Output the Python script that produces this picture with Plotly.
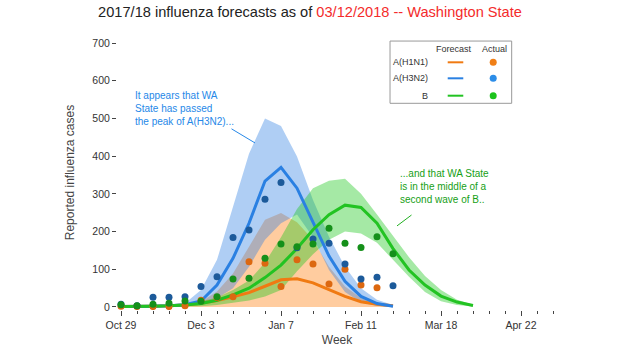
import plotly.graph_objects as go

# ---- data ----
weeks = ["2017-10-29", "2017-11-05", "2017-11-12", "2017-11-19", "2017-11-26",
         "2017-12-03", "2017-12-10", "2017-12-17", "2017-12-24", "2017-12-31",
         "2018-01-07", "2018-01-14", "2018-01-21", "2018-01-28", "2018-02-04",
         "2018-02-11", "2018-02-18", "2018-02-25", "2018-03-04", "2018-03-11",
         "2018-03-18", "2018-03-25", "2018-04-01"]

tick_vals = ["2017-10-29", "2017-12-03", "2018-01-07", "2018-02-11", "2018-03-18", "2018-04-22"]
tick_text = ["Oct 29", "Dec 3", "Jan 7", "Feb 11", "Mar 18", "Apr 22"]
y_ticks = [0, 100, 200, 300, 400, 500, 600, 700]

# A(H1N1)
h1_fc = [1, 1, 2, 3, 5, 10, 17, 27, 38, 55, 72, 75, 64, 46, 28, 14, 7, 3]
h1_hi = [1, 1, 2, 2, 5, 14, 41, 89, 160, 231, 249, 225, 178, 107, 54, 24, 8, 2]
h1_lo = [0, 0, 0, 0, 0, 0, 0, 0, 0, 0, 0, 0, 0, 0, 0, 0, 0, 0]
h1_act = [2, 1, 1, 1, 3, 18, 25, 27, 120, 116, 54, 125, 114, 61, 100, 58, 51, None]

# A(H3N2)
h3_fc = [1, 1, 2, 3, 6, 16, 58, 129, 222, 334, 370, 315, 225, 135, 68, 28, 9, 2]
h3_hi = [1, 2, 3, 4, 10, 45, 125, 266, 406, 500, 480, 399, 284, 186, 107, 50, 19, 5]
h3_lo = [0, 0, 1, 1, 2, 8, 23, 50, 107, 178, 222, 245, 185, 98, 40, 12, 3, 0]
h3_act = [7, 3, 26, 26, 27, 54, 80, 184, 204, 286, 330, 157, 180, 169, 114, 74, 79, 56]

# B
b_fc = [1, 1, 2, 3, 5, 9, 18, 32, 50, 78, 111, 155, 205, 245, 270, 264, 222, 155, 98, 58, 29, 13, 4]
b_hi = [1, 2, 3, 5, 8, 15, 25, 45, 70, 118, 185, 260, 315, 335, 340, 300, 245, 188, 132, 82, 45, 19, 6]
b_lo = [0, 0, 0, 0, 0, 2, 5, 10, 17, 28, 45, 95, 140, 178, 200, 195, 170, 125, 80, 40, 15, 5, 1]
b_act = [6, 3, 7, 10, 16, 15, 27, 74, 76, 129, 167, 160, 167, 209, 169, 158, 186, 141]

# ---- style ----
FONT = "Liberation Sans, Arial, sans-serif"
C_OR_LINE, C_OR_DOT, C_OR_FILL, C_OR_LEG = "#f07a12", "#dc6810", "rgba(255,127,14,0.40)", "#f07f17"
C_BL_LINE, C_BL_DOT, C_BL_FILL, C_BL_LEG = "#2a80e2", "#1c5a9a", "rgba(44,127,225,0.38)", "#2c8de8"
C_GR_LINE, C_GR_DOT, C_GR_FILL, C_GR_LEG = "#22c322", "#15901a", "rgba(30,200,30,0.40)", "#1cc31c"

fig = go.Figure()

def band(n, lo, hi, fillcolor):
    x = weeks[:n]
    fig.add_trace(go.Scatter(x=x, y=lo, mode="lines", line=dict(width=0),
                             hoverinfo="skip", showlegend=False))
    fig.add_trace(go.Scatter(x=x, y=hi, mode="lines", line=dict(width=0),
                             fill="tonexty", fillcolor=fillcolor,
                             hoverinfo="skip", showlegend=False))

band(len(h1_hi), h1_lo, h1_hi, C_OR_FILL)
band(len(h3_hi), h3_lo, h3_hi, C_BL_FILL)
band(len(b_hi), b_lo, b_hi, C_GR_FILL)

for vals, col in [(h1_fc, C_OR_LINE), (h3_fc, C_BL_LINE), (b_fc, C_GR_LINE)]:
    fig.add_trace(go.Scatter(x=weeks[:len(vals)], y=vals, mode="lines",
                             line=dict(color=col, width=3), showlegend=False))

for vals, col in [(h1_act, C_OR_DOT), (h3_act, C_BL_DOT), (b_act, C_GR_DOT)]:
    fig.add_trace(go.Scatter(x=weeks[:len(vals)], y=vals, mode="markers",
                             marker=dict(color=col, size=7), showlegend=False))

# ---- custom legend (paper coords) ----
shapes = [dict(type="rect", xref="paper", yref="paper", x0=0.6205, x1=0.897,
               y0=0.7516, y1=0.978, line=dict(color="#999999", width=1),
               fillcolor="white", layer="above")]
annots = [
    dict(text="Forecast", x=0.766, y=0.949, xref="paper", yref="paper",
         xanchor="center", yanchor="middle",
         showarrow=False, font=dict(size=9, color="#333", family=FONT)),
    dict(text="Actual", x=0.857, y=0.949, xref="paper", yref="paper",
         xanchor="center", yanchor="middle",
         showarrow=False, font=dict(size=9, color="#333", family=FONT)),
]
leg_rows = [("A(H1N1)", C_OR_LINE, C_OR_LEG, 0.9007),
            ("A(H3N2)", C_BL_LINE, C_BL_LEG, 0.8425),
            ("B", C_GR_LINE, C_GR_LEG, 0.7793)]
for name, lc, dc, yy in leg_rows:
    annots.append(dict(text=name, x=0.7114, y=yy, xref="paper", yref="paper",
                       xanchor="right", yanchor="middle", showarrow=False,
                       font=dict(size=9, color="#333", family=FONT)))
    shapes.append(dict(type="line", xref="paper", yref="paper", x0=0.7516, x1=0.787,
                       y0=yy, y1=yy, line=dict(color=lc, width=2), layer="above"))
    shapes.append(dict(type="circle", xref="paper", yref="paper",
                       xsizemode="pixel", ysizemode="pixel",
                       xanchor=0.855, yanchor=yy, x0=-3.5, x1=3.5, y0=-3.5, y1=3.5,
                       fillcolor=dc, line=dict(width=0), layer="above"))

# ---- commentary annotations ----
annots += [
    dict(text="It appears that WA<br>State has passed<br>the peak of A(H3N2)...",
         x=0.0364, y=0.807, xref="paper", yref="paper", xanchor="left", yanchor="top",
         align="left", showarrow=False, font=dict(size=10, color="#2688e8", family=FONT)),
    dict(text="", x="2017-12-26 15:00", y=435, xref="x", yref="y",
         showarrow=True, arrowhead=0, arrowwidth=1, arrowcolor="#2688e8",
         ax=-25, ay=-15),
    dict(text="...and that WA State<br>is in the middle of a<br>second wave of B..",
         x=0.6386, y=0.5236, xref="paper", yref="paper", xanchor="left", yanchor="top",
         align="left", showarrow=False, font=dict(size=10, color="#16a016", family=FONT)),
    dict(text="", x="2018-02-26 18:00", y=215, xref="x", yref="y",
         showarrow=True, arrowhead=0, arrowwidth=1, arrowcolor="#22b022",
         ax=16, ay=-12),
]

fig.update_layout(
    width=620, height=350,
    margin=dict(l=117, r=63, t=35, b=40, autoexpand=False),
    paper_bgcolor="white", plot_bgcolor="white",
    font=dict(family=FONT, size=10.5, color="#333"),
    title=dict(text="2017/18 influenza forecasts as of "
                    "<span style='color:#f42b2b'>03/12/2018 -- Washington State</span>",
               x=0.5, xref="container", xanchor="center",
               y=1 - 12 / 350, yref="container", yanchor="middle",
               font=dict(family=FONT, size=14.6, color="#222")),
    xaxis=dict(type="date", range=["2017-10-27 06:00", "2018-05-07 18:00"],
               tickmode="array", tickvals=tick_vals, ticktext=tick_text,
               ticks="outside", ticklen=5, tickcolor="#444", tickwidth=1,
               showgrid=False, zeroline=False, showline=False, automargin=False,
               minor=dict(tickmode="linear", tick0="2017-10-29", dtick=7 * 86400000,
                          ticks="outside", ticklen=3, tickcolor="#444", showgrid=False),
               title=dict(text="Week", font=dict(size=12, color="#444"), standoff=6)),
    yaxis=dict(range=[-8, 721.2], tickmode="array", tickvals=y_ticks,
               ticks="outside", ticklen=4, tickcolor="#444", tickwidth=1,
               showgrid=False, zeroline=False, showline=False, automargin=False,
               title=dict(text="Reported influenza cases", font=dict(size=12, color="#444"))),
    shapes=shapes, annotations=annots, showlegend=False,
)

fig.write_html("out.html")
